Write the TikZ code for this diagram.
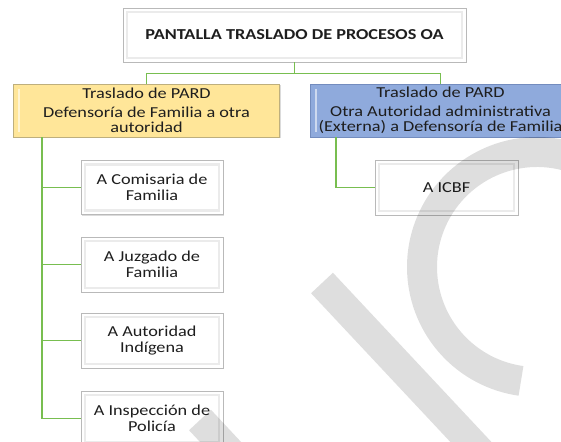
\documentclass[tikz,border=0pt]{standalone}
\usepackage{fontspec}
\setmainfont{Carlito}
\newfontfamily\cfont[FakeStretch=1.2]{Carlito}
\definecolor{yelfill}{RGB}{255,230,153}
\definecolor{yeldraw}{RGB}{190,175,125}
\definecolor{bluefill}{RGB}{143,170,220}
\definecolor{bluedraw}{RGB}{115,140,190}
\definecolor{conncol}{RGB}{120,190,80}
\definecolor{txt}{RGB}{30,30,30}
\tikzset{
  basebox/.style={rectangle, line width=0.8pt, inner sep=2pt, align=center, text=txt,
    font=\cfont\fontsize{15.2}{15.5}\selectfont,
    preaction={fill=black!14, transform canvas={xshift=1.2pt,yshift=-1.2pt}}},
  whitebox/.style={basebox, fill=white, draw=gray!55,
    path picture={\draw[gray!16, line width=2.4pt]
      ([xshift=4pt,yshift=-4pt]path picture bounding box.north west) rectangle
      ([xshift=-4pt,yshift=4pt]path picture bounding box.south east);}},
  yelbox/.style={basebox, fill=yelfill, draw=yeldraw,
    path picture={\draw[white!55!yelfill, line width=2pt]
      ([xshift=5pt,yshift=-5pt]path picture bounding box.north west) --
      ([xshift=5pt,yshift=5pt]path picture bounding box.south west);}},
  bluebox/.style={basebox, fill=bluefill, draw=bluedraw,
    path picture={\draw[white!55!bluefill, line width=2pt]
      ([xshift=5pt,yshift=-5pt]path picture bounding box.north west) --
      ([xshift=5pt,yshift=5pt]path picture bounding box.south west);}},
  conn/.style={draw=conncol, line width=1.5pt},
  wmark/.style={draw=black, opacity=0.13, line width=30pt}
}
\begin{document}
\begin{tikzpicture}[x=1pt,y=-1pt]
\useasboundingbox (0,0) rectangle (561,441);
\clip (0,0) rectangle (561,441);
\fill[white] (0,0) rectangle (561,441);

\node[whitebox, minimum width=343pt, minimum height=54pt] (top) at (294.5,35)
  {\bfseries PANTALLA TRASLADO DE PROCESOS OA};

\node[yelbox, minimum width=266pt, minimum height=53pt] (yel) at (146.5,110.5)
  {Traslado de PARD\\[3pt]Defensoría de Familia a otra\\autoridad};
\node[bluebox, minimum width=260pt, minimum height=53pt] (blu) at (440.5,110.5)
  {Traslado de PARD\\[3pt]Otra Autoridad administrativa\\(Externa) a Defensoría de Familia};

\node[whitebox, minimum width=142pt, minimum height=54pt] (c1) at (152,187.5) {A Comisaria de\\Familia};
\node[whitebox, minimum width=142pt, minimum height=55pt] (c2) at (152,264.5) {A Juzgado de\\Familia};
\node[whitebox, minimum width=142pt, minimum height=55pt] (c3) at (152,340.5) {A Autoridad\\Indígena};
\node[whitebox, minimum width=142pt, minimum height=55pt] (c4) at (152,418.5) {A Inspección de\\Policía};

\node[whitebox, minimum width=143pt, minimum height=55pt] (icbf) at (446.5,187.5) {A ICBF};

\draw[conn] (top.south) -- ++(0,11) coordinate (mid);
\draw[conn] (mid) -| (yel.north);
\draw[conn] (mid) -| (blu.north);
\draw[conn] ([xshift=29pt]yel.south west) |- (c1.west);
\draw[conn] ([xshift=29pt]yel.south west) |- (c2.west);
\draw[conn] ([xshift=29pt]yel.south west) |- (c3.west);
\draw[conn] ([xshift=29pt]yel.south west) |- (c4.west);
\draw[conn] ([xshift=26pt]blu.south west) |- (icbf.west);

% watermark
\draw[wmark] (537,267) ++(-72:115) arc[start angle=-72, end angle=-262, radius=115];
\draw[wmark] (322,283) -- (514,488);
\draw[wmark] (200,420) -- (300,527);
\end{tikzpicture}
\end{document}
